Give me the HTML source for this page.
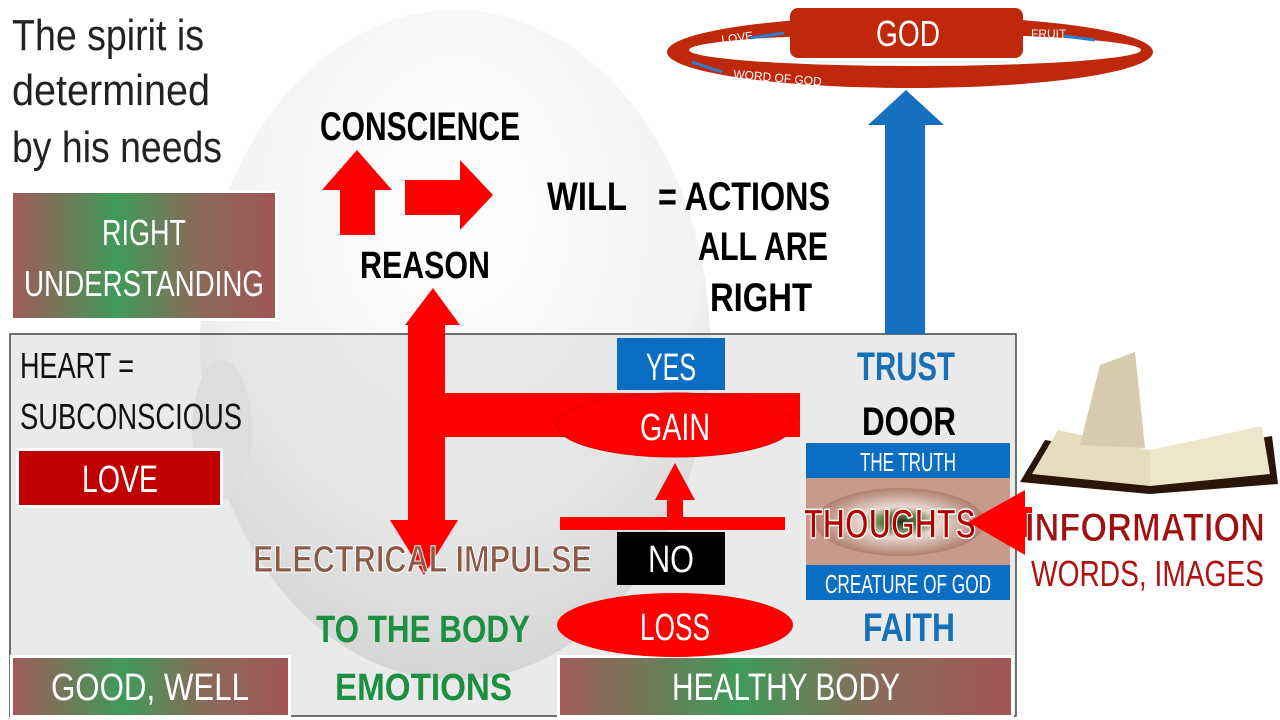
<!DOCTYPE html>
<html><head><meta charset="utf-8"><style>
html,body{margin:0;padding:0;background:#fff;width:1280px;height:720px;overflow:hidden}
text{font-family:"Liberation Sans Narrow","Liberation Sans",sans-serif}
</style></head><body>
<svg width="1280" height="720" viewBox="0 0 1280 720" xmlns="http://www.w3.org/2000/svg">
<defs>
<radialGradient id="head" cx="0.5" cy="0.3" r="0.75">
<stop offset="0" stop-color="#ffffff"/><stop offset="0.65" stop-color="#f2f2f2"/><stop offset="1" stop-color="#c4c4c4"/></radialGradient>
<linearGradient id="rg" x1="0" y1="0" x2="1" y2="0">
<stop offset="0" stop-color="#a05a5a"/><stop offset="0.4" stop-color="#3f9a5a"/><stop offset="0.7" stop-color="#8a6a5a"/><stop offset="1" stop-color="#a05555"/></linearGradient>
<radialGradient id="eye" cx="0.5" cy="0.5" r="0.5">
<stop offset="0" stop-color="#203020"/><stop offset="0.25" stop-color="#6a8a50"/><stop offset="0.45" stop-color="#e8d8d0"/><stop offset="1" stop-color="#b08070"/></radialGradient>
</defs>
<ellipse cx="455" cy="345" rx="255" ry="335" fill="url(#head)"/>
<ellipse cx="222" cy="430" rx="30" ry="70" fill="#dedede"/>
<rect x="10" y="334" width="1006" height="382" fill="#dcdcdc" fill-opacity="0.6" stroke="#444" stroke-width="1.5"/>
<text x="12" y="50" font-size="44" fill="#222" textLength="192" lengthAdjust="spacingAndGlyphs">The spirit is</text>
<text x="12" y="105" font-size="44" fill="#222" textLength="198" lengthAdjust="spacingAndGlyphs">determined</text>
<text x="12" y="162" font-size="44" fill="#222" textLength="210" lengthAdjust="spacingAndGlyphs">by his needs</text>
<rect x="11.5" y="191.5" width="265" height="128" fill="url(#rg)" stroke="#fff" stroke-width="3"/>
<text x="144" y="245" font-size="36" fill="#fff" text-anchor="middle" textLength="84" lengthAdjust="spacingAndGlyphs">RIGHT</text>
<text x="144" y="296" font-size="36" fill="#fff" text-anchor="middle" textLength="240" lengthAdjust="spacingAndGlyphs">UNDERSTANDING</text>
<text x="20" y="378" font-size="36" fill="#111" textLength="114" lengthAdjust="spacingAndGlyphs">HEART =</text>
<text x="20" y="429" font-size="36" fill="#111" textLength="222" lengthAdjust="spacingAndGlyphs">SUBCONSCIOUS</text>
<rect x="17.5" y="449.5" width="204" height="57" fill="#c00000" stroke="#fff" stroke-width="3"/>
<text x="120" y="492" font-size="38" fill="#fff" text-anchor="middle" textLength="76" lengthAdjust="spacingAndGlyphs">LOVE</text>
<rect x="11.5" y="656.5" width="278" height="60" fill="url(#rg)" stroke="#fff" stroke-width="3"/>
<text x="150" y="700" font-size="38" fill="#fff" text-anchor="middle" textLength="198" lengthAdjust="spacingAndGlyphs">GOOD, WELL</text>
<rect x="558.5" y="656.5" width="454" height="60" fill="url(#rg)" stroke="#fff" stroke-width="3"/>
<text x="786" y="700" font-size="38" fill="#fff" text-anchor="middle" textLength="228" lengthAdjust="spacingAndGlyphs">HEALTHY BODY</text>
<text x="320" y="140" font-size="40" font-weight="bold" fill="#000" textLength="200" lengthAdjust="spacingAndGlyphs">CONSCIENCE</text>
<text x="360" y="278" font-size="38" font-weight="bold" fill="#000" textLength="130" lengthAdjust="spacingAndGlyphs">REASON</text>
<text x="547" y="210" font-size="40" font-weight="bold" fill="#000" textLength="80" lengthAdjust="spacingAndGlyphs">WILL</text>
<text x="658" y="210" font-size="40" font-weight="bold" fill="#000" textLength="172" lengthAdjust="spacingAndGlyphs">= ACTIONS</text>
<text x="698" y="260" font-size="40" font-weight="bold" fill="#000" textLength="130" lengthAdjust="spacingAndGlyphs">ALL ARE</text>
<text x="710" y="311" font-size="40" font-weight="bold" fill="#000" textLength="102" lengthAdjust="spacingAndGlyphs">RIGHT</text>
<polygon points="357,150 392,190 375,190 375,235 340,235 340,190 322,190" fill="#f00"/>
<polygon points="405,180 460,180 460,160 493,195 460,230 460,215 405,215" fill="#f00"/>
<polygon points="433,288 460,325 445,325 445,393 800,393 800,437 445,437 445,520 458,520 424,575 390,520 408,520 408,325 405,325" fill="#f00"/>
<rect x="617" y="338" width="108" height="52" fill="#0a6fc2"/>
<text x="671" y="380" font-size="38" fill="#fff" text-anchor="middle" textLength="50" lengthAdjust="spacingAndGlyphs">YES</text>
<ellipse cx="675" cy="425" rx="118" ry="32" fill="#f00" stroke="#d00" stroke-width="1"/>
<text x="675" y="440" font-size="38" fill="#fff" text-anchor="middle" textLength="70" lengthAdjust="spacingAndGlyphs">GAIN</text>
<polygon points="675,463 695,500 683,500 683,518 667,518 667,500 655,500" fill="#f00"/>
<rect x="560" y="517" width="225" height="13" fill="#f00"/>
<rect x="617" y="532" width="108" height="53" fill="#000"/>
<text x="671" y="572" font-size="38" fill="#fff" text-anchor="middle" textLength="46" lengthAdjust="spacingAndGlyphs">NO</text>
<ellipse cx="675" cy="625" rx="118" ry="32" fill="#f00"/>
<text x="675" y="640" font-size="38" fill="#fff" text-anchor="middle" textLength="70" lengthAdjust="spacingAndGlyphs">LOSS</text>
<text x="253" y="572" font-size="38" font-weight="bold" fill="#8b5a48" stroke="#fff" stroke-width="1" textLength="339" lengthAdjust="spacingAndGlyphs">ELECTRICAL IMPULSE</text>
<text x="316" y="642" font-size="38" font-weight="bold" fill="#1a9040" textLength="214" lengthAdjust="spacingAndGlyphs">TO THE BODY</text>
<text x="335" y="700" font-size="38" font-weight="bold" fill="#1a9040" textLength="177" lengthAdjust="spacingAndGlyphs">EMOTIONS</text>
<text x="906" y="380" font-size="40" font-weight="bold" fill="#1570b8" text-anchor="middle" textLength="98" lengthAdjust="spacingAndGlyphs">TRUST</text>
<text x="909" y="435" font-size="40" font-weight="bold" fill="#000" text-anchor="middle" textLength="94" lengthAdjust="spacingAndGlyphs">DOOR</text>
<text x="909" y="641" font-size="40" font-weight="bold" fill="#1570b8" text-anchor="middle" textLength="92" lengthAdjust="spacingAndGlyphs">FAITH</text>
<rect x="806" y="443" width="204" height="35" fill="#0a6fc2"/>
<text x="908" y="471" font-size="26" fill="#fff" text-anchor="middle" textLength="96" lengthAdjust="spacingAndGlyphs">THE TRUTH</text>
<rect x="806" y="478" width="204" height="87" fill="#c89a8a"/>
<ellipse cx="900" cy="522" rx="85" ry="34" fill="url(#eye)"/>
<rect x="806" y="565" width="204" height="35" fill="#0a6fc2"/>
<text x="908" y="593" font-size="26" fill="#fff" text-anchor="middle" textLength="166" lengthAdjust="spacingAndGlyphs">CREATURE OF GOD</text>
<text x="890" y="538" font-size="42" font-weight="bold" fill="#b00000" stroke="#fff" stroke-width="1.5" text-anchor="middle" textLength="172" lengthAdjust="spacingAndGlyphs">THOUGHTS</text>
<polygon points="968,522 1025,490 1025,507 1032,507 1032,537 1025,537 1025,555" fill="#f00"/>
<polygon points="906,90 944,125 925,125 925,334 885,334 885,125 868,125" fill="#1570c0"/>
<!-- GOD ring -->
<ellipse cx="910" cy="52" rx="243" ry="36" fill="#c0280c"/>
<ellipse cx="915" cy="50" rx="226" ry="16" fill="#fff"/>
<rect x="790" y="8" width="233" height="50" rx="8" fill="#c0280c"/>
<text x="908" y="46" font-size="36" fill="#fff" text-anchor="middle" textLength="64" lengthAdjust="spacingAndGlyphs">GOD</text>
<text x="722" y="44" font-size="12" fill="#fff" transform="rotate(-8 722 44)">LOVE</text>
<text x="1031" y="38" font-size="12" fill="#fff">FRUIT</text>
<text x="733" y="78" font-size="12" fill="#fff" transform="rotate(5 733 78)">WORD OF GOD</text>
<line x1="750" y1="38" x2="784" y2="33" stroke="#2a7fd0" stroke-width="3"/>
<line x1="1064" y1="36" x2="1095" y2="40" stroke="#2a7fd0" stroke-width="3"/>
<line x1="692" y1="62" x2="722" y2="72" stroke="#2a7fd0" stroke-width="3"/>
<!-- book -->
<polygon points="1020,482 1045,440 1150,458 1272,436 1278,484 1150,494" fill="#2a1608"/>
<polygon points="1032,474 1058,430 1150,450 1150,486" fill="#e8dcc0"/>
<polygon points="1150,450 1262,426 1270,474 1150,486" fill="#efe4cc"/>
<polygon points="1080,445 1100,365 1135,352 1145,448" fill="#d8ccb0"/>
<text x="1025" y="541" font-size="40" font-weight="bold" fill="#a01010" stroke="#fff" stroke-width="1" textLength="240" lengthAdjust="spacingAndGlyphs">INFORMATION</text>
<text x="1031" y="586" font-size="36" fill="#b01010" textLength="233" lengthAdjust="spacingAndGlyphs">WORDS, IMAGES</text>
</svg>
</body></html>
